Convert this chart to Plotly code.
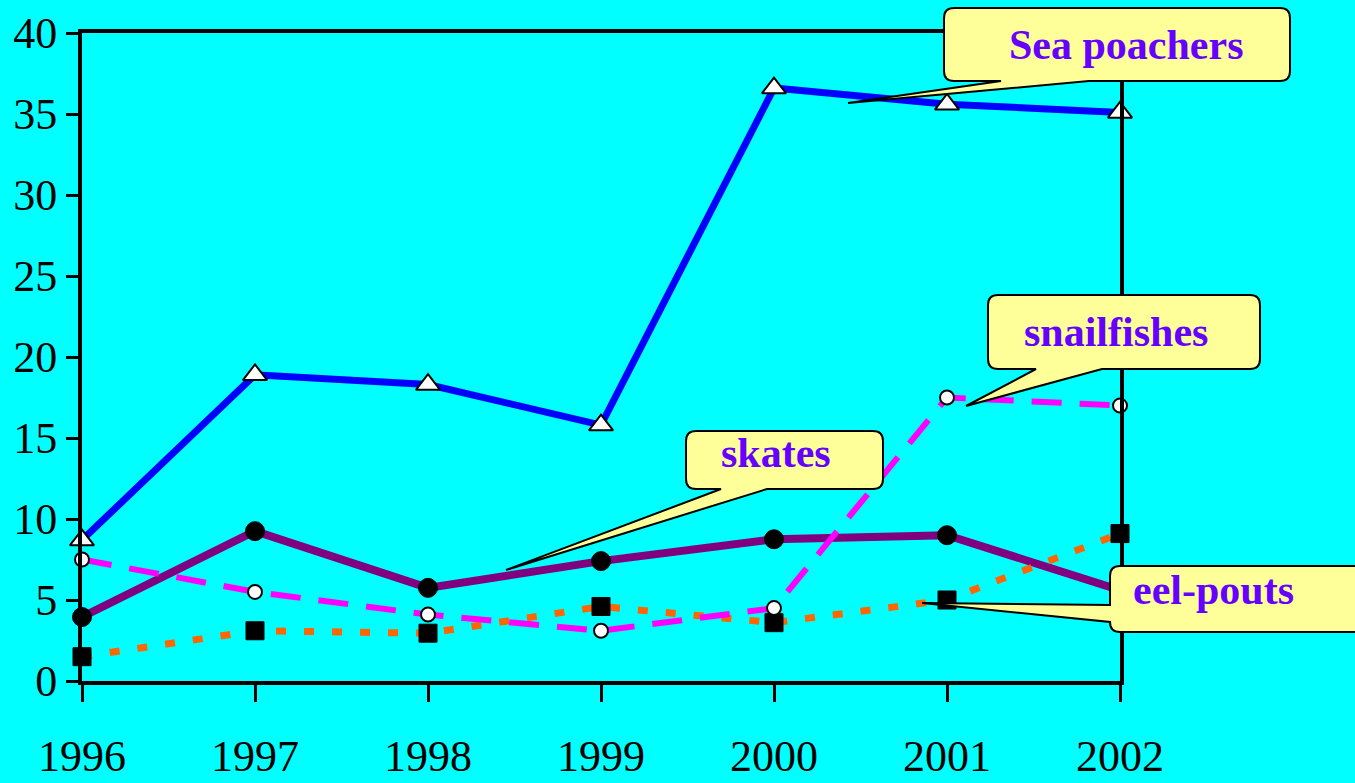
import plotly.graph_objects as go

years = [1996, 1997, 1998, 1999, 2000, 2001, 2002]
sea_poachers = [8.7, 18.9, 18.3, 15.8, 36.6, 35.6, 35.1]
skates = [3.95, 9.25, 5.75, 7.4, 8.75, 9.0, 5.6]
snailfishes = [7.5, 5.5, 4.1, 3.1, 4.5, 17.5, 17.0]
eel_pouts = [1.5, 3.1, 2.95, 4.6, 3.6, 5.0, 9.1]
y_ticks = [0, 5, 10, 15, 20, 25, 30, 35, 40]

W, H = 1355, 783
L, R, T, B = 82, 1120, 33, 681

def px(x):
    return (x - L) / (R - L)

def py(y):
    return (B - y) / (B - T)

fig = go.Figure()

fig.add_trace(go.Scatter(x=years, y=skates, mode="lines+markers", name="skates",
                         line=dict(color="#800080", width=8),
                         marker=dict(symbol="circle", size=19, color="black",
                                     line=dict(color="black", width=1)),
                         cliponaxis=False))
fig.add_trace(go.Scatter(x=years, y=eel_pouts, mode="lines+markers", name="eel-pouts",
                         line=dict(color="#FF6600", width=7, dash="10px,18px"),
                         marker=dict(symbol="square", size=18, color="black",
                                     line=dict(color="black", width=1)),
                         cliponaxis=False))
fig.add_trace(go.Scatter(x=years, y=snailfishes, mode="lines+markers", name="snailfishes",
                         line=dict(color="#FF00FF", width=6, dash="30px,18px"),
                         marker=dict(symbol="circle", size=14, color="white",
                                     line=dict(color="black", width=2)),
                         cliponaxis=False))
fig.add_trace(go.Scatter(x=years, y=sea_poachers, mode="lines+markers", name="Sea poachers",
                         line=dict(color="#0000FF", width=7),
                         marker=dict(symbol="triangle-up", size=21, color="white",
                                     line=dict(color="black", width=2)),
                         cliponaxis=False))


def bubble(x0, y0, x1, y1, tail, side, r=10):
    """Rounded rectangle (pixel coords) with a wedge tail; returns path in paper coords."""
    def P(x, y):
        return f"{px(x):.5f},{py(y):.5f}"
    a, b, tx, ty = tail
    d = f"M {P(x0 + r, y0)} "
    d += f"L {P(x1 - r, y0)} Q {P(x1, y0)} {P(x1, y0 + r)} "
    d += f"L {P(x1, y1 - r)} Q {P(x1, y1)} {P(x1 - r, y1)} "
    if side == "bottom":
        d += f"L {P(b, y1)} L {P(tx, ty)} L {P(a, y1)} "
    d += f"L {P(x0 + r, y1)} Q {P(x0, y1)} {P(x0, y1 - r)} "
    if side == "left":
        d += f"L {P(x0, b)} L {P(tx, ty)} L {P(x0, a)} "
    d += f"L {P(x0, y0 + r)} Q {P(x0, y0)} {P(x0 + r, y0)} Z"
    return d

callouts = [
    ("Sea poachers", (944, 8, 1290, 81), (1001, 1089, 848, 103), "bottom", (1126, 45)),
    ("snailfishes", (988, 295, 1260, 369), (1036, 1102, 966, 406), "bottom", (1116, 332)),
    ("skates", (686, 431, 883, 489), (721, 767, 506, 570), "bottom", (776, 453)),
    ("eel-pouts", (1110, 566, 1370, 632), (605, 622, 922, 603), "left", (1213, 590)),
]

for label, box, tail, side, (cx, cy) in callouts:
    fig.add_shape(type="path", xref="paper", yref="paper",
                  path=bubble(*box, tail, side),
                  fillcolor="#FFFF99", line=dict(color="black", width=2),
                  layer="above")
    fig.add_annotation(x=px(cx), y=py(cy), xref="paper", yref="paper",
                       text=f"<b>{label}</b>", showarrow=False,
                       font=dict(family="Liberation Serif", size=42, color="#6600FF"),
                       xanchor="center", yanchor="middle")

fig.update_layout(
    width=W, height=H,
    margin=dict(l=L, r=W - R, t=T, b=H - B, pad=0, autoexpand=False),
    paper_bgcolor="#00FFFF", plot_bgcolor="#00FFFF",
    showlegend=False,
    font=dict(family="Liberation Serif", color="black"),
)
fig.update_xaxes(range=[1996, 2002], tickvals=years, ticktext=[str(y) for y in years],
                 showgrid=False, zeroline=False, showline=True, linecolor="black",
                 linewidth=4, mirror=True, ticks="outside", ticklen=17, tickwidth=3,
                 tickcolor="black", ticklabelstandoff=16, automargin=False,
                 tickfont=dict(family="Liberation Serif", size=44, color="black"))
fig.update_yaxes(range=[0, 40], tickvals=y_ticks, showgrid=False, zeroline=False,
                 showline=True, linecolor="black", linewidth=4, mirror=True,
                 ticks="outside", ticklen=12, tickwidth=3, tickcolor="black",
                 ticklabelstandoff=0, automargin=False,
                 tickfont=dict(family="Liberation Serif", size=44, color="black"))

fig.write_html("out.html")
